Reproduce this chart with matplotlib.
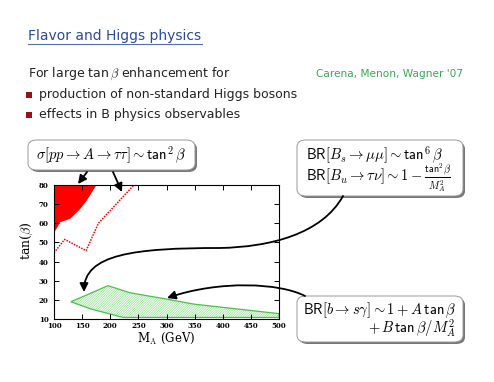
"""Flavor and Higgs physics slide: tan(beta) vs M_A exclusion plot."""

import matplotlib
matplotlib.use("Agg")
import matplotlib.pyplot as plt
from matplotlib.patches import FancyBboxPatch, FancyArrowPatch, Rectangle, Polygon
from matplotlib.path import Path

plt.rcParams['mathtext.fontset'] = 'cm'

W, H = 494, 382

# Tevatron tau-tau excluded region (solid red), upper-left corner
red_fill_x = [100, 110, 128, 146, 157, 174]
red_fill_y = [55.6, 60.8, 62.6, 67.8, 72.0, 80.0]

# LHC reach (dotted red)
reach_x = [100, 119, 157, 179, 242]
reach_y = [44.6, 51.6, 45.7, 60.0, 80.0]

# b -> s gamma allowed region (hatched green)
bsg_x = [130, 196, 235, 300, 348, 500, 500, 223, 165, 130]
bsg_y = [19.0, 27.4, 23.7, 20.4, 17.8, 12.8, 10.8, 10.8, 15.3, 19.0]

x_ticks = [100, 150, 200, 250, 300, 350, 400, 450, 500]
y_ticks = [10, 20, 30, 40, 50, 60, 70, 80]


def fx(px):
    return px / W


def fy(py):
    return 1 - py / H


def fp(pt):
    return (fx(pt[0]), fy(pt[1]))


fig = plt.figure(figsize=(W / 100, H / 100), dpi=100)

# ---- slide text ----
title_col = '#2a4b9b'
fig.text(fx(28), fy(40), 'Flavor and Higgs physics', fontsize=10.0,
         color=title_col, ha='left', va='baseline')
fig.add_artist(plt.Line2D([fx(28), fx(202)], [fy(43.5), fy(43.5)],
                          color=title_col, lw=0.8, alpha=0.8))

fig.text(fx(28), fy(77), r'For large tan$\,\beta$ enhancement for', fontsize=9.0,
         color='#222222', ha='left', va='baseline')
fig.text(fx(463), fy(77), "Carena, Menon, Wagner '07", fontsize=7.6,
         color='#3aa655', ha='right', va='baseline')

bullets = ['production of non-standard Higgs bosons',
           'effects in B physics observables']
for i, txt in enumerate(bullets):
    yb = 98 + 20 * i
    fig.add_artist(Rectangle((fx(26), fy(yb)), 6 / W, 6 / H,
                             facecolor='#9b1111', edgecolor='none'))
    fig.text(fx(39), fy(yb), txt, fontsize=9.0, color='#222222',
             ha='left', va='baseline')

# ---- plot ----
ax = fig.add_axes([fx(54), fy(319), (279 - 54) / W, (319 - 185) / H])
ax.fill_between(red_fill_x, red_fill_y, 80, color='red', lw=0)
ax.fill_between([100, 100.01], [80, 55.6], 80, color='red', lw=0)
ax.plot(reach_x, reach_y, color='red', ls=(0, (1.0, 0.8)), lw=1.1)

plt.rcParams['hatch.linewidth'] = 0.6
ax.add_patch(Polygon(list(zip(bsg_x, bsg_y)), closed=True, facecolor='white',
                     edgecolor='#9fe39f', hatch='//////////////', lw=0))
ax.add_patch(Polygon(list(zip(bsg_x, bsg_y)), closed=True, facecolor='none',
                     edgecolor='#4cbf4c', lw=0.9))

ax.set_xlim(100, 500)
ax.set_ylim(10, 80)
ax.set_xticks(x_ticks)
ax.set_yticks(y_ticks)
ax.tick_params(direction='in', top=True, right=True, length=3.5, width=0.7,
               labelsize=5, pad=2.5)
ax.tick_params(axis='y', pad=4)
for lab in ax.get_xticklabels() + ax.get_yticklabels():
    lab.set_family('DejaVu Serif')
    lab.set_fontweight('bold')
for s in ax.spines.values():
    s.set_linewidth(0.8)
ax.set_xlabel(r'M$_{\rm A}$ (GeV)', family='DejaVu Serif', fontsize=8.5, labelpad=0)
ax.set_ylabel(r'tan($\beta$)', family='DejaVu Serif', fontsize=9)
ax.yaxis.set_label_coords(-0.085, 0.58)


# ---- annotation boxes ----
def box(x0, y0, x1, y1):
    fig.add_artist(FancyBboxPatch((fx(x0 + 2), fy(y1 + 2)), (x1 - x0) / W, (y1 - y0) / H,
                                  boxstyle='round,pad=0,rounding_size=0.018',
                                  facecolor='#555555', edgecolor='none', alpha=0.8))
    fig.add_artist(FancyBboxPatch((fx(x0), fy(y1)), (x1 - x0) / W, (y1 - y0) / H,
                                  boxstyle='round,pad=0,rounding_size=0.018',
                                  facecolor='white', edgecolor='#999999', lw=0.7))


box(28, 140, 195, 170)
box(297, 140, 463, 196)
box(297, 296, 463, 342)

fs = 10.5
fig.text(fx(111), fy(155),
         r'$\sigma[pp\rightarrow A\rightarrow\tau\tau]\sim\mathsf{tan}^2\,\beta$',
         fontsize=fs, ha='center', va='center')
fig.text(fx(306), fy(144),
         r'$\mathsf{BR}[B_s\rightarrow\mu\mu]\sim\mathsf{tan}^6\,\beta$' + '\n'
         + r'$\mathsf{BR}[B_u\rightarrow\tau\nu]\sim\mathsf{1}-\frac{\mathsf{tan}^2\beta}{M_A^2}$',
         fontsize=fs, ha='left', va='top', linespacing=0.8)
fig.text(fx(456), fy(300),
         r'$\mathsf{BR}[b\rightarrow s\gamma]\sim\mathsf{1}+A\,\mathsf{tan}\,\beta$' + '\n'
         + r'$+\,B\,\mathsf{tan}\,\beta/M_A^\mathsf{2}$',
         fontsize=fs, ha='right', va='top', multialignment='right', linespacing=0.9)

# ---- arrows ----
def arrow_path(pts, codes):
    return Path([fp(p) for p in pts], codes)


astyle = dict(arrowstyle='-|>,head_length=5,head_width=2.5', color='black', lw=1.3,
              transform=fig.transFigure, shrinkA=0, shrinkB=0)

p1 = arrow_path([(343, 196), (322, 234), (270, 247), (220, 248),
                 (135, 248), (84, 254), (84, 292)],
                [Path.MOVETO, Path.CURVE4, Path.CURVE4, Path.CURVE4,
                 Path.CURVE4, Path.CURVE4, Path.CURVE4])
fig.add_artist(FancyArrowPatch(path=p1, **astyle))

p2 = arrow_path([(305, 296), (280, 283), (220, 280), (167, 298)],
                [Path.MOVETO, Path.CURVE4, Path.CURVE4, Path.CURVE4])
fig.add_artist(FancyArrowPatch(path=p2, **astyle))

fig.add_artist(FancyArrowPatch(fp((87, 172)), fp((78, 184)), **astyle))
fig.add_artist(FancyArrowPatch(fp((113, 172)), fp((122, 192)), **astyle))

fig.savefig('out.png', dpi=100)
